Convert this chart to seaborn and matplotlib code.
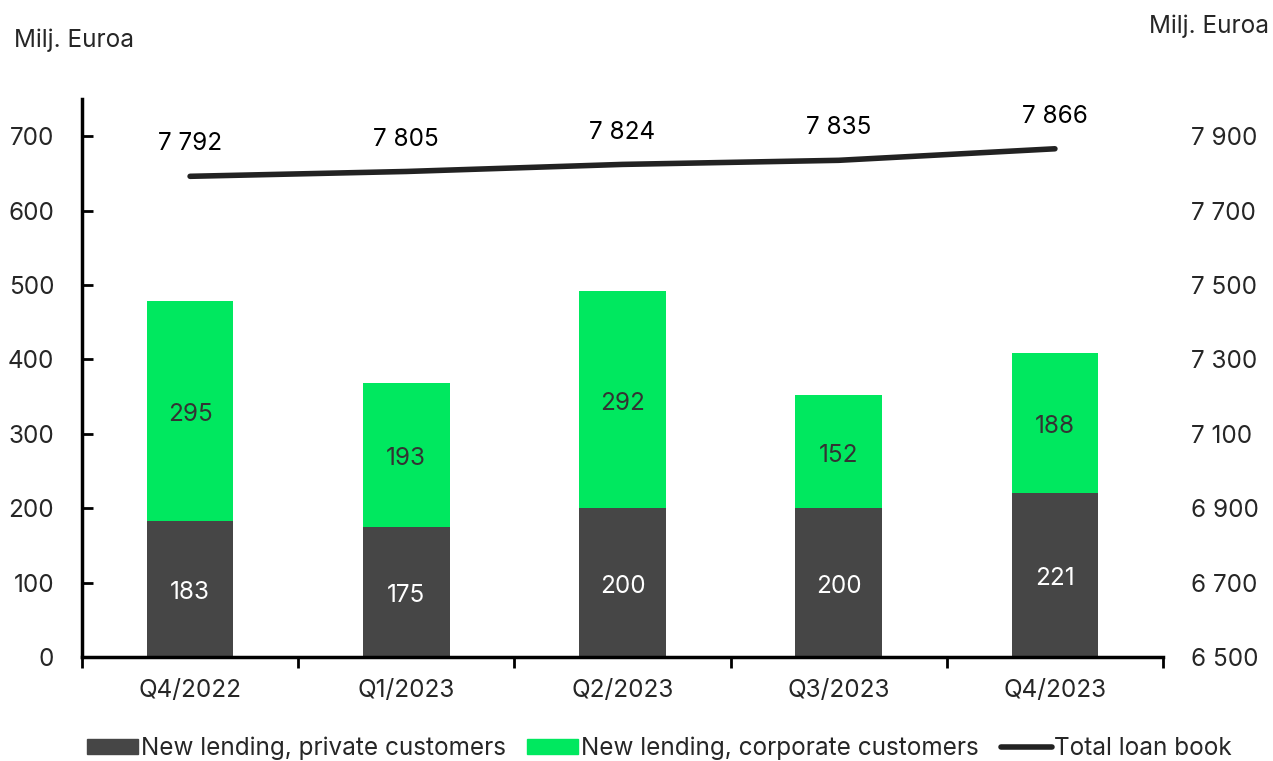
import numpy as np
import pandas as pd
import matplotlib
matplotlib.use("Agg")
import matplotlib.pyplot as plt
import seaborn as sns
from matplotlib.patches import Patch
from matplotlib.lines import Line2D

quarters = ["Q4/2022", "Q1/2023", "Q2/2023", "Q3/2023", "Q4/2023"]
private = [183, 175, 200, 200, 221]
corporate = [295, 193, 292, 152, 188]
loan_book = [7792, 7805, 7824, 7835, 7866]

dark = "#464646"
green = "#00e85f"
fs = 17.5

sns.set_theme(style="white")
plt.rcParams["font.family"] = ["Inter", "DejaVu Sans"]
plt.rcParams["font.size"] = fs

df = pd.DataFrame({"quarter": quarters, "private": private, "corporate": corporate})
df["total"] = df["private"] + df["corporate"]

fig = plt.figure(figsize=(12.73, 7.61), dpi=100)
ax = fig.add_axes([0.0644, 0.1367, 0.8492, 0.7333])

sns.barplot(data=df, x="quarter", y="total", color=green, width=0.4, saturation=1, linewidth=0, ax=ax)
sns.barplot(data=df, x="quarter", y="private", color=dark, width=0.4, saturation=1, linewidth=0, ax=ax)

for i, (p, c) in enumerate(zip(private, corporate)):
    ax.text(i, p / 2 - 5, str(p), ha="center", va="center", color="white", fontsize=fs)
    ax.text(i, p + c / 2 - 5, str(c), ha="center", va="center", color="#333333", fontsize=fs)

ax.set_xlim(-0.5, 4.5)
ax.set_ylim(0, 750)
ax.set_yticks(range(0, 701, 100))
ax.set_xlabel("")
ax.set_ylabel("")
ax.tick_params(axis="y", left=True, direction="in", length=8, width=2, labelsize=fs, pad=20, color="black")
ax.set_xticks(range(5))
ax.set_xticks(np.arange(-0.5, 4.6, 1), minor=True)
ax.tick_params(axis="x", which="major", length=0, labelsize=fs, pad=16)
ax.tick_params(axis="x", which="minor", bottom=True, direction="out", length=8, width=2, color="black")
for s in ["top", "right"]:
    ax.spines[s].set_visible(False)
for s in ["left", "bottom"]:
    ax.spines[s].set_color("black")
    ax.spines[s].set_linewidth(2.5)

ax2 = ax.twinx()
sns.lineplot(x=np.arange(5), y=loan_book, color="#222222", linewidth=4, ax=ax2)
ax2.lines[0].set_solid_capstyle("round")
for i, v in enumerate(loan_book):
    ax2.annotate(f"{v:,}".replace(",", " "), (i, v), xytext=(0, 15), textcoords="offset points",
                 ha="center", va="bottom", fontsize=fs, color="black")
ax2.set_ylim(6500, 8000)
ax2.set_yticks(range(6500, 7901, 200))
ax2.set_yticklabels([f"{t:,}".replace(",", " ") for t in range(6500, 7901, 200)])
ax2.tick_params(axis="y", length=0, labelsize=fs, pad=20)
for s in ax2.spines.values():
    s.set_visible(False)
ax2.set_xlim(-0.5, 4.5)

fig.text(0.011, 0.947, "Milj. Euroa", ha="left", va="center", fontsize=fs)
fig.text(0.997, 0.966, "Milj. Euroa", ha="right", va="center", fontsize=fs)

handles = [Patch(color=dark), Patch(color=green), Line2D([0], [0], color="#222222", linewidth=4)]
labels = ["New lending, private customers", "New lending, corporate customers", "Total loan book"]
fig.legend(handles, labels, loc="center", bbox_to_anchor=(0.518, 0.017), ncol=3, frameon=False,
           fontsize=fs, handlelength=2.1, handleheight=0.6, handletextpad=0.1, columnspacing=0.9)

fig.savefig("out.png", dpi=100)
